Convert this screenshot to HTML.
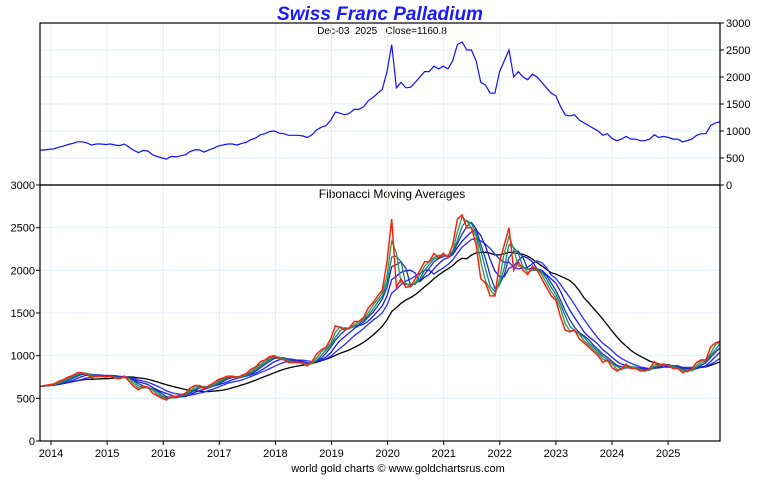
<!DOCTYPE html>
<html><head><meta charset="utf-8"><style>
body{margin:0;background:#fff;font-family:"Liberation Sans",sans-serif}
svg text{font-family:"Liberation Sans",sans-serif}
</style></head><body>
<svg id="c" width="760" height="475" viewBox="0 0 760 475">
<text x="380" y="20" text-anchor="middle" font-size="19" font-weight="bold" font-style="italic" fill="#1a1aff">Swiss Franc Palladium</text>
<text x="382" y="34" text-anchor="middle" font-size="10" fill="#000" xml:space="preserve">Dec-03  2025   Close=1160.8</text>
<text x="392" y="198" text-anchor="middle" font-size="12" fill="#000">Fibonacci Moving Averages</text>
<text x="398" y="472" text-anchor="middle" font-size="11" fill="#000">world gold charts © www.goldchartsrus.com</text>
<g id="g"></g>
</svg>
<script>
const years=["2014","2015","2016","2017","2018","2019","2020","2021","2022","2023","2024","2025"];
const yTicks=[0,500,1000,1500,2000,2500,3000];
const prices=[640,650,
660,670,700,720,750,770,800,800,780,740,760,760,
750,760,740,730,760,700,640,600,640,630,560,530,
500,480,530,520,540,560,620,650,650,610,650,680,
720,740,760,760,740,770,790,840,870,930,950,990,
1000,960,950,920,920,920,910,880,930,1020,1070,1100,
1200,1350,1330,1300,1330,1400,1400,1450,1560,1620,1700,1770,
2100,2600,1800,1900,1800,1810,1900,2000,2100,2100,2200,2150,
2200,2150,2300,2600,2650,2500,2500,2300,1900,1850,1700,1700,
2100,2300,2500,2000,2100,2000,1950,2050,2000,1900,1800,1700,
1650,1450,1300,1280,1300,1200,1150,1100,1050,1000,920,950,
860,820,850,900,850,850,820,820,850,930,880,900,
880,850,850,800,820,850,920,950,950,1100,1150,1170];
const maPeriods=[2,3,4,6,9,16];
const maColors=["#2e9a4a","#1a7a8a","#1a3a9a","#1a1aee","#2a2aff","#000"];
const NS="http://www.w3.org/2000/svg";
const g=document.getElementById('g');
const L=40,R=720;
const xi=i=>L+i*(R-L)/(prices.length-1);
const xYear=k=>51+k*56.1;
const yTop=v=>185-v*162/3000;
const yBot=v=>441-v*256/3000;
function el(t,a){const e=document.createElementNS(NS,t);for(const k in a)e.setAttribute(k,a[k]);g.appendChild(e);return e;}
yTicks.forEach(v=>{
 if(v>0&&v<3000){
  const a=el('line',{x1:L,x2:R,y1:yTop(v),y2:yTop(v),stroke:'#e3eef8'});
  
  const b=el('line',{x1:L,x2:R,y1:yBot(v),y2:yBot(v),stroke:'#e3eef8'});
  
 }
 const t=el('text',{x:R+6,y:yTop(v)+4,'font-size':11});t.textContent=v;
 
 el('line',{x1:R,x2:R+4,y1:yTop(v),y2:yTop(v),stroke:'#000'});
 const u=el('text',{x:L-5,y:yBot(v)+4,'font-size':11,'text-anchor':'end'});u.textContent=v;
 
 el('line',{x1:L-4,x2:L,y1:yBot(v),y2:yBot(v),stroke:'#000'});
});
years.forEach((y,k)=>{
 const x=xYear(k);
 const a=el('line',{x1:x,x2:x,y1:23,y2:441,stroke:'#e3eef8'});
 
 el('line',{x1:x,x2:x,y1:441,y2:445,stroke:'#000'});
 const t=el('text',{x:x,y:457,'font-size':11,'text-anchor':'middle'});t.textContent=y;
 
});
const pt=prices.map((v,i)=>xi(i).toFixed(1)+','+yTop(v).toFixed(1)).join(' ');
const tl=el('polyline',{points:pt,fill:'none',stroke:'#1010ff','stroke-width':1.2});

maPeriods.slice().reverse().forEach((p,ri)=>{
 const idx=maPeriods.length-1-ri;
 const pts=[];
 prices.forEach((v,i)=>{let s=0,n=0;for(let j=Math.max(0,i-p+1);j<=i;j++){s+=prices[j];n++;}pts.push(xi(i).toFixed(1)+','+yBot(s/n).toFixed(1));});
 const m=el('polyline',{points:pts.join(' '),fill:'none',stroke:maColors[idx],'stroke-width':1.3});
 
});
const pb=prices.map((v,i)=>xi(i).toFixed(1)+','+yBot(v).toFixed(1)).join(' ');
const bl=el('polyline',{points:pb,fill:'none',stroke:'#ff2010','stroke-width':1.5});

const f1=el('rect',{x:L,y:23,width:R-L,height:162,fill:'none',stroke:'#000','stroke-width':1.2});

const f2=el('rect',{x:L,y:185,width:R-L,height:256,fill:'none',stroke:'#000','stroke-width':1.2});

</script>
</body></html>
